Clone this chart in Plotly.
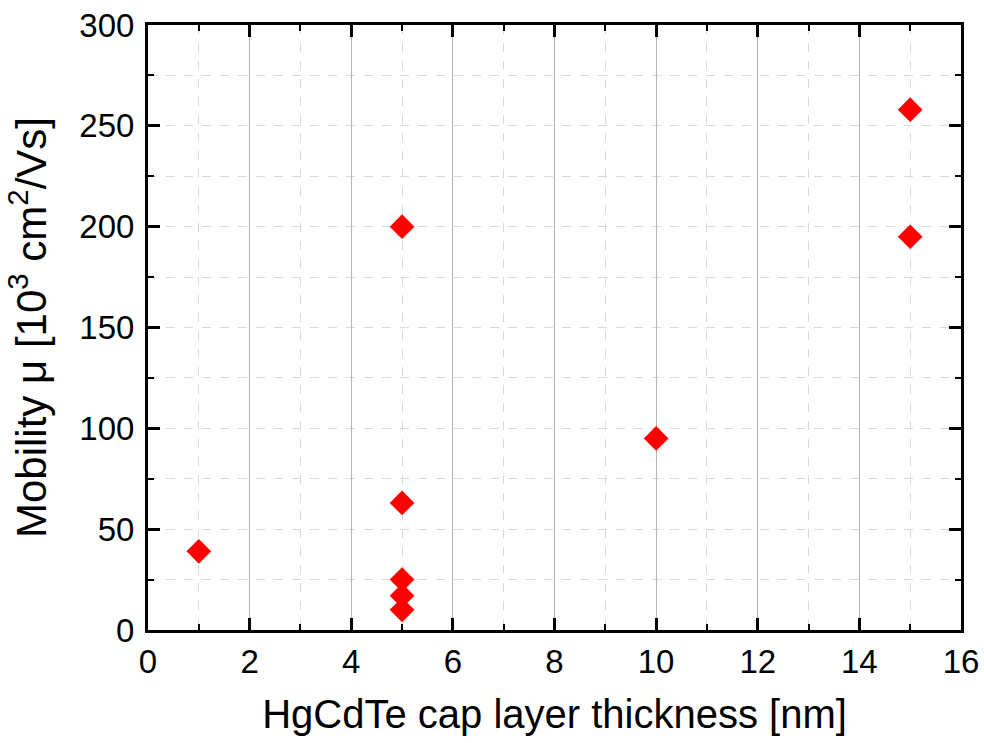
import plotly.graph_objects as go

# Cap layer thickness (nm) and electron mobility (10^3 cm^2/Vs)
thickness = [1, 5, 5, 5, 5, 5, 10, 15, 15]
mobility = [39, 200, 63, 25, 17, 10, 95, 258, 195]

x_ticks = [0, 2, 4, 6, 8, 10, 12, 14, 16]
y_ticks = [0, 50, 100, 150, 200, 250, 300]

FONT = "Liberation Sans, Arial, sans-serif"

fig = go.Figure(
    go.Scatter(
        x=thickness,
        y=mobility,
        mode="markers",
        marker=dict(symbol="diamond", size=19, color="#ff0000", line=dict(width=0)),
        showlegend=False,
    )
)

axis_common = dict(
    showline=True,
    linecolor="black",
    linewidth=3,
    mirror="ticks",
    ticks="inside",
    ticklen=12,
    tickwidth=2.5,
    tickcolor="black",
    zeroline=False,
    automargin=False,
    tickfont=dict(family=FONT, size=33, color="black"),
)

fig.update_xaxes(
    **axis_common,
    range=[0, 16],
    tickvals=x_ticks,
    showgrid=True,
    gridcolor="#b4b4b4",
    gridwidth=1,
    minor=dict(
        dtick=1, ticks="inside", ticklen=6, tickwidth=2, tickcolor="black",
        showgrid=True, gridcolor="#d9d9d9", griddash="dash", gridwidth=1,
    ),
    title=dict(text="HgCdTe cap layer thickness [nm]",
               font=dict(family=FONT, size=40, color="black"), standoff=22),
)

fig.update_yaxes(
    **axis_common,
    range=[0, 300],
    tickvals=y_ticks,
    ticklabelstandoff=4,
    showgrid=False,
    minor=dict(
        dtick=25, tick0=0, ticks="inside", ticklen=6, tickwidth=2, tickcolor="black",
        showgrid=True, gridcolor="#d9d9d9", griddash="dash", gridwidth=1,
    ),
    title=dict(text="Mobility μ [10<sup>3</sup> cm<sup>2</sup>/Vs]",
               font=dict(family=FONT, size=42, color="black"), standoff=20),
)

fig.update_layout(
    width=984,
    height=743,
    margin=dict(l=148, r=23, t=25, b=113),
    plot_bgcolor="white",
    paper_bgcolor="white",
)

fig.write_html("out.html")
